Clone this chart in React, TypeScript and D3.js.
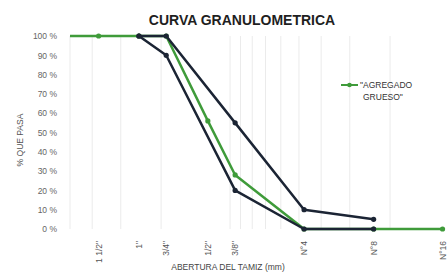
import React, { useEffect, useRef } from "react"
import * as d3 from "d3"

// sieve openings (mm) and their labels
const sieveLabels = ['1 1/2"', '1"', '3/4"', '1/2"', '3/8"', "N°4", "N°8", "N°16"]
const sieveOpenings = [37.5, 25, 19, 12.5, 9.5, 4.75, 2.36, 1.18]

// gradation of the sample (first point is the 2" sieve)
const sampleOpenings = [50, 37.5, 25, 19, 12.5, 9.5, 4.75, 2.36, 1.18]
const samplePassing = [100, 100, 100, 100, 56, 28, 0, 0, 0]

// limits (ASTM C33, huso 67)
const limitOpenings = [25, 19, 9.5, 4.75, 2.36]
const upperLimit = [100, 100, 55, 10, 5]
const lowerLimit = [100, 90, 20, 0, 0]

const yTicks = [0, 10, 20, 30, 40, 50, 60, 70, 80, 90, 100]
const gridOpenings = [50, 40, 30, 20, 10, 9, 8, 7, 6, 5, 4, 3, 2]

const W = 447
const H = 275
const GREEN = "#3f9b3a"
const NAVY = "#1b2434"
const FONT = "Liberation Sans Narrow, Liberation Sans, sans-serif"

export default function App() {
  const ref = useRef<SVGSVGElement>(null)

  useEffect(() => {
    if (!ref.current) return
    const svg = d3.select(ref.current)
    svg.selectAll("*").remove()

    const x = d3.scaleLog().domain([50, 1.0]).range([70, 459])
    const y = d3.scaleLinear().domain([0, 100]).range([229, 36])

    svg.append("rect").attr("width", W).attr("height", H).attr("fill", "#fff")

    // title
    svg
      .append("text")
      .attr("x", 242)
      .attr("y", 25)
      .attr("text-anchor", "middle")
      .attr("font-family", FONT)
      .attr("font-weight", "bold")
      .attr("font-size", 14)
      .attr("fill", "#1f1f1f")
      .text("CURVA GRANULOMETRICA")

    // vertical gridlines
    svg
      .append("g")
      .selectAll("line")
      .data(gridOpenings)
      .join("line")
      .attr("x1", (d) => x(d))
      .attr("x2", (d) => x(d))
      .attr("y1", y(100))
      .attr("y2", y(0))
      .attr("stroke", "#ebebeb")
      .attr("stroke-width", 1)

    // y axis
    const yAxis = svg
      .append("g")
      .attr("transform", `translate(57,0)`)
      .call(
        d3
          .axisLeft(y)
          .tickValues(yTicks)
          .tickSize(0)
          .tickFormat((d) => `${d} %`)
      )
    yAxis.select(".domain").remove()
    yAxis
      .selectAll("text")
      .attr("font-family", FONT)
      .attr("font-size", 8.5)
      .attr("fill", "#666")
      .attr("x", 0)

    svg
      .append("text")
      .attr("transform", `translate(23,140) rotate(-90)`)
      .attr("text-anchor", "middle")
      .attr("font-family", FONT)
      .attr("font-size", 8.5)
      .attr("fill", "#555")
      .text("% QUE PASA")

    // x axis labels (rotated)
    const xAxis = svg
      .append("g")
      .attr("transform", `translate(0,241)`)
      .call(
        d3
          .axisBottom(x)
          .tickValues(sieveOpenings)
          .tickSize(0)
          .tickFormat((_, i) => sieveLabels[i])
      )
    xAxis.select(".domain").remove()
    xAxis
      .selectAll("text")
      .attr("font-family", FONT)
      .attr("font-size", 8.5)
      .attr("fill", "#555")
      .attr("y", 0)
      .attr("dy", "0.32em")
      .attr("transform", "rotate(-90)")
      .attr("text-anchor", "end")

    svg
      .append("text")
      .attr("x", 228)
      .attr("y", 270)
      .attr("text-anchor", "middle")
      .attr("font-family", FONT)
      .attr("font-size", 8.5)
      .attr("fill", "#444")
      .text("ABERTURA DEL TAMIZ (mm)")

    const line = d3
      .line<[number, number]>()
      .x((d) => x(d[0]))
      .y((d) => y(d[1]))

    const drawSeries = (xs: number[], ys: number[], color: string, markerFrom = 0) => {
      const pts = xs.map((v, i) => [v, ys[i]] as [number, number])
      svg
        .append("path")
        .datum(pts)
        .attr("fill", "none")
        .attr("stroke", color)
        .attr("stroke-width", 2.5)
        .attr("stroke-linejoin", "round")
        .attr("d", line)
      svg
        .append("g")
        .selectAll("circle")
        .data(pts.slice(markerFrom))
        .join("circle")
        .attr("cx", (d) => x(d[0]))
        .attr("cy", (d) => y(d[1]))
        .attr("r", 2.6)
        .attr("fill", color)
    }

    drawSeries(sampleOpenings, samplePassing, GREEN, 1)
    drawSeries(limitOpenings, upperLimit, NAVY)
    drawSeries(limitOpenings, lowerLimit, NAVY)

    // legend
    const lg = svg.append("g").attr("transform", "translate(341,85)")
    lg.append("line").attr("x1", 0).attr("x2", 17).attr("stroke", GREEN).attr("stroke-width", 2)
    lg.append("circle").attr("cx", 8.5).attr("r", 2.3).attr("fill", GREEN)
    const lt = lg
      .append("text")
      .attr("font-family", FONT)
      .attr("font-size", 8.5)
      .attr("fill", "#333")
    lt.append("tspan").attr("x", 19).attr("y", 3).text('"AGREGADO')
    lt.append("tspan").attr("x", 22).attr("y", 15).text('GRUESO"')
  }, [])

  return (
    <div style={{ position: "fixed", left: 0, top: 0 }}>
      <svg ref={ref} width={W} height={H} style={{ display: "block" }} />
    </div>
  )
}
